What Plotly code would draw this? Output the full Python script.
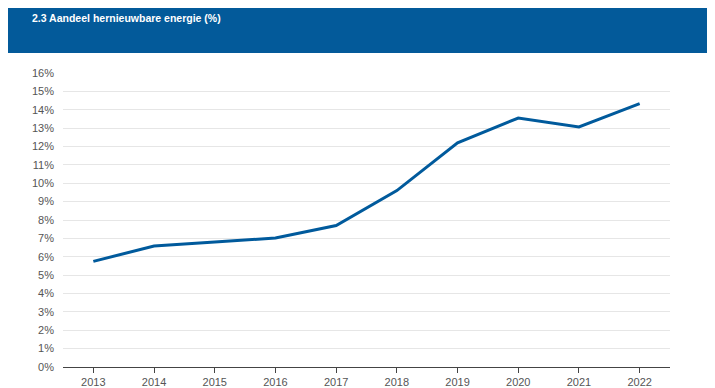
import plotly.graph_objects as go

years = [2013, 2014, 2015, 2016, 2017, 2018, 2019, 2020, 2021, 2022]
share = [5.75, 6.58, 6.80, 7.02, 7.70, 9.60, 12.20, 13.55, 13.06, 14.33]
title_text = "2.3 Aandeel hernieuwbare energie (%)"
y_ticks = list(range(0, 17))
y_tick_labels = [f"{v}%" for v in y_ticks]

# The page body has an 8px margin, so the figure is laid out 8px smaller
# and all positions are measured relative to that offset.
OFF = 8
W, H = 715 - OFF, 388 - OFF
L, R, T, B = 55, 45, 65, 21
pw, ph = W - L - R, H - T - B

def px_x(x):
    return (x - OFF - L) / pw

def px_y(y):
    return (H - B - (y - OFF)) / ph

fig = go.Figure()
fig.add_trace(go.Scatter(
    x=years, y=share, mode="lines",
    line=dict(color="#005a9c", width=3),
    hoverinfo="x+y",
))

fig.add_shape(type="rect", xref="paper", yref="paper",
              x0=px_x(0), x1=px_x(720), y0=px_y(53), y1=px_y(0),
              fillcolor="#035a9a", line=dict(width=0), layer="above")
fig.add_annotation(xref="paper", yref="paper", x=px_x(30), y=px_y(18),
                   xanchor="left", yanchor="middle", showarrow=False,
                   text=f"<b>{title_text}</b>",
                   font=dict(family="Liberation Sans Narrow, Arial Narrow, Liberation Sans, Arial",
                             size=10.5, color="white"))

fig.update_layout(
    width=W, height=H,
    margin=dict(l=L, r=R, t=T, b=B, pad=0, autoexpand=False),
    paper_bgcolor="white", plot_bgcolor="white",
    showlegend=False,
    font=dict(family="Liberation Sans, Arial", size=11, color="#555555"),
    xaxis=dict(
        range=[2012.5, 2022.5], tickvals=years, ticktext=[str(y) for y in years],
        showgrid=False, zeroline=False, automargin=False,
        showline=True, linecolor="#444444", linewidth=1,
        ticks="outside", ticklen=5, tickcolor="#444444",
        tickfont=dict(size=11, color="#555555"),
    ),
    yaxis=dict(
        range=[0, 16], tickvals=y_ticks, ticktext=y_tick_labels,
        showgrid=True, gridcolor="#e6e6e6", gridwidth=1,
        zeroline=False, showline=False, automargin=False,
        ticks="", ticklabelstandoff=8,
        tickfont=dict(size=11, color="#555555"),
    ),
)

fig.write_html("out.html")
